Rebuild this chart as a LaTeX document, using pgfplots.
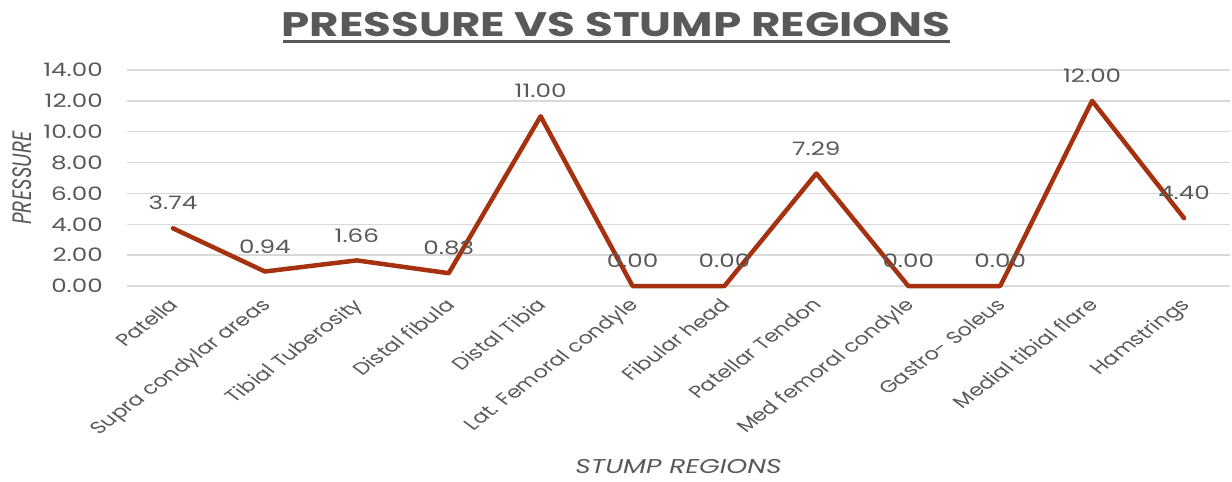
\documentclass[border=0pt]{standalone}
\usepackage{pgfplots}
\pgfplotsset{compat=1.18}
\usepackage{fontspec}
\setmainfont{Poppins}[FakeStretch=1.33]
\newfontfamily\plainfont{Poppins}
\definecolor{txtgray}{HTML}{595959}
\definecolor{gridgray}{HTML}{D9D9D9}
\definecolor{linered}{HTML}{A5310F}
\begin{document}
\begin{tikzpicture}
\useasboundingbox (-127pt,-196pt) rectangle (1105pt,286pt);
% chart title with underline
\node[font=\fontsize{34}{38}\selectfont\bfseries, text=txtgray, anchor=base, inner sep=0pt] at (489pt,249pt) {PRESSURE VS STUMP REGIONS};
\draw[txtgray, line width=3pt] (156pt,244pt) -- (823pt,244pt);
\begin{axis}[
  at={(0pt,0pt)}, anchor=south west,
  scale only axis, width=1103pt, height=216pt,
  xmin=-0.5, xmax=11.5, ymin=0, ymax=14,
  ytick={0,2,...,14},
  xtick={0,...,11},
  xticklabels={Patella, Supra condylar areas, Tibial Tuberosity, Distal fibula, Distal Tibia, Lat. Femoral condyle, Fibular head, Patellar Tendon, Med femoral condyle, Gastro- Soleus, Medial tibial flare, Hamstrings},
  axis line style={draw=none},
  major tick length=0pt,
  ymajorgrids, grid style={gridgray, line width=1.3pt},
  /pgf/number format/.cd, fixed, fixed zerofill, precision=2, assume math mode=true,
  /pgfplots/.cd,
  yticklabel style={font=\fontsize{18.5}{20}\selectfont, text=txtgray, anchor=east, inner sep=0pt, xshift=-24pt},
  xticklabel style={font=\plainfont\fontsize{17}{19}\selectfont, text=txtgray,
    xshift=-5pt, yshift=-11pt, cm={0.94,0.707,-0.94,0.707,(0,0)}, anchor=north east, inner sep=0pt},
  nodes near coords,
  every node near coord/.style={anchor=south, inner sep=0pt, yshift=16pt, font=\fontsize{18.5}{20}\selectfont, text=txtgray},
  clip=false,
]
\addplot[linered, line width=4.5pt, line join=round, line cap=round] coordinates {
  (0,3.74) (1,0.94) (2,1.66) (3,0.83) (4,11.00) (5,0.00)
  (6,0.00) (7,7.29) (8,0.00) (9,0.00) (10,12.00) (11,4.40)
};
% axis titles
\node[font=\plainfont\itshape\fontsize{20}{22}\selectfont, text=txtgray, anchor=base, inner sep=0pt,
  cm={0,1,-1.33,0,(0,0)}] at (axis description cs:-0.128,0.5) {PRESSURE};
\node[font=\itshape\fontsize{20}{22}\selectfont, text=txtgray, anchor=base, inner sep=0pt]
  at (axis description cs:0.5,-0.866) {STUMP REGIONS};
\end{axis}
\end{tikzpicture}
\end{document}
